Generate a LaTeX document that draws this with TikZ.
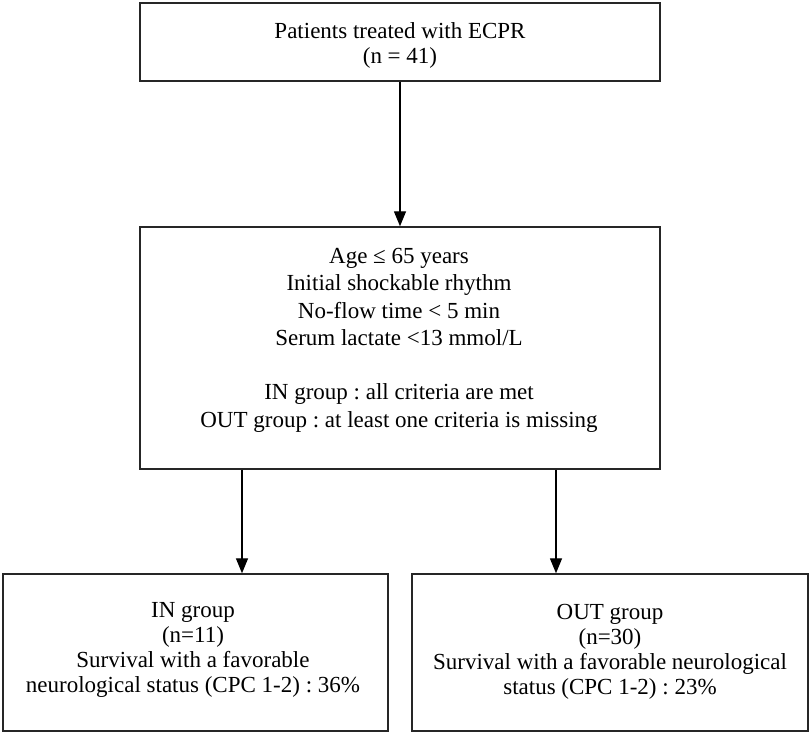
\documentclass[tikz,border=0pt]{standalone}
\usepackage{fontspec}
\setmainfont{Liberation Serif}
\frenchspacing
\usetikzlibrary{arrows.meta,positioning}
\begin{document}
\begin{tikzpicture}[x=1pt,y=1pt,
  boxx/.style={draw=black!85,line width=1.4pt,rectangle,inner sep=0pt},
  txt/.style={align=center,inner sep=0pt,anchor=north,font=\fontsize{23}{25}\selectfont},
  arr/.style={line width=1.4pt,draw=black,-{Triangle[length=15pt,width=12pt]}}]
\useasboundingbox (0,0) rectangle (810,733);
\fill[white] (0,0) rectangle (810,733);
% boxes
\node[boxx,minimum width=520pt,minimum height=78pt] (top) at (400,691) {};
\node[boxx,minimum width=520pt,minimum height=242pt] (mid) at (400,385) {};
\node[boxx,minimum width=385pt,minimum height=157pt] (bl) at (195.5,80.5) {};
\node[boxx,minimum width=396pt,minimum height=157pt] (br) at (610,80.5) {};
% texts
\node[txt] (toptxt) at (400,710.5) {Patients treated with ECPR\\(n = 41)};
\node[txt,font=\fontsize{23}{27.3}\selectfont] (midtxt) at (399,485) {Age ≤ 65 years\\Initial shockable rhythm\\No-flow time < 5 min\\Serum lactate <13 mmol/L\\[27.3pt]IN group : all criteria are met\\OUT group : at least one criteria is missing};
\node[txt] (bltxt) at (193,131) {IN group\\(n=11)\\Survival with a favorable\\neurological status (CPC 1-2) : 36\%};
\node[txt] (brtxt) at (610,128.5) {OUT group\\(n=30)\\Survival with a favorable neurological\\status (CPC 1-2) : 23\%};
% arrows
\coordinate (a1) at (242,0);
\coordinate (a2) at (556,0);
\draw[arr] (top.south) -- (mid.north);
\draw[arr] (mid.south -| a1) -- (bl.north -| a1);
\draw[arr] (mid.south -| a2) -- (br.north -| a2);
\end{tikzpicture}
\end{document}
